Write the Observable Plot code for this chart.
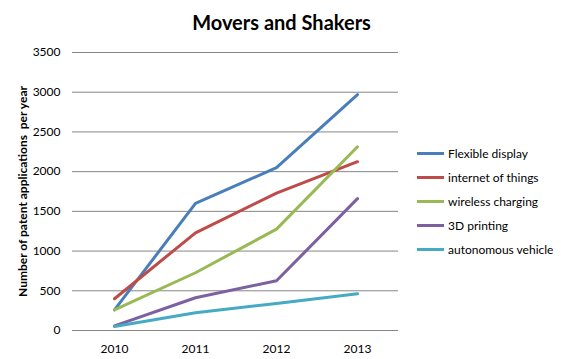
<!DOCTYPE html>
<html>
<head>
<meta charset="utf-8">
<script src="https://cdn.jsdelivr.net/npm/d3@7"></script>
<script src="https://cdn.jsdelivr.net/npm/@observablehq/plot@0.6"></script>
<style>
  body { margin: 0; background: #fff; font-family: Lato, "Open Sans", sans-serif; }
  #wrap { position: relative; width: 561px; height: 359px; }
  #title { height: 40px; text-align: center; font-weight: bold; font-size: 20px; line-height: 44px; padding-left: 2px; color: #000; }
  #legend { position: absolute; left: 417px; top: 141px; font-size: 12px; color: #000; }
  .item { height: 24px; display: flex; align-items: center; }
  .sw { width: 27px; height: 3px; margin-right: 4px; }
</style>
</head>
<body>
<div id="wrap">
  <div id="title">Movers and Shakers</div>
  <div id="chart"></div>
  <div id="legend"></div>
</div>
<script>
const years = ["2010", "2011", "2012", "2013"];
const seriesNames = ["Flexible display", "internet of things", "wireless charging", "3D printing", "autonomous vehicle"];
const colors = ["#4A7EBB", "#BE4B48", "#98B954", "#7D60A0", "#46AAC5"];
const flexibleDisplay = [260, 1600, 2050, 2970];
const internetOfThings = [400, 1230, 1730, 2125];
const wirelessCharging = [260, 727, 1276, 2313];
const printing3D = [59, 412, 626, 1660];
const autonomousVehicle = [50, 223, 340, 462];
const yTicks = [0, 500, 1000, 1500, 2000, 2500, 3000, 3500];

const allValues = [flexibleDisplay, internetOfThings, wirelessCharging, printing3D, autonomousVehicle];
const rows = [];
seriesNames.forEach((s, i) => years.forEach((y, j) => rows.push({series: s, year: y, value: allValues[i][j]})));

const chart = Plot.plot({
  width: 561,
  height: 319,
  marginLeft: 72,
  marginRight: 163,
  marginTop: 12,
  marginBottom: 29,
  style: {fontFamily: "Lato, 'Open Sans', sans-serif", fontSize: "12px", color: "#000"},
  x: {type: "point", domain: years, padding: 0.5},
  y: {domain: [0, 3500]},
  color: {domain: seriesNames, range: colors},
  marks: [
    Plot.ruleY(yTicks, {stroke: "#868686", strokeWidth: 1}),
    Plot.ruleX([0], {frameAnchor: "left", stroke: "#868686", strokeWidth: 1}),
    Plot.axisY({ticks: yTicks, tickSize: 0, tickPadding: 12, tickFormat: d3.format("d"), label: null}),
    Plot.axisX({tickSize: 0, tickPadding: 14, label: null}),
    Plot.text(["Number of patent applications  per year"], {frameAnchor: "left", rotate: -90, dx: -49, textAnchor: "middle", fontWeight: "bold", fontSize: 12}),
    Plot.line(rows, {x: "year", y: "value", z: "series", stroke: "series", strokeWidth: 3})
  ]
});
document.getElementById("chart").appendChild(chart);

const legend = document.getElementById("legend");
seriesNames.forEach((s, i) => {
  const it = document.createElement("div");
  it.className = "item";
  const sw = document.createElement("div");
  sw.className = "sw";
  sw.style.background = colors[i];
  const t = document.createElement("span");
  t.textContent = s;
  it.appendChild(sw); it.appendChild(t);
  legend.appendChild(it);
});
</script>
</body>
</html>
